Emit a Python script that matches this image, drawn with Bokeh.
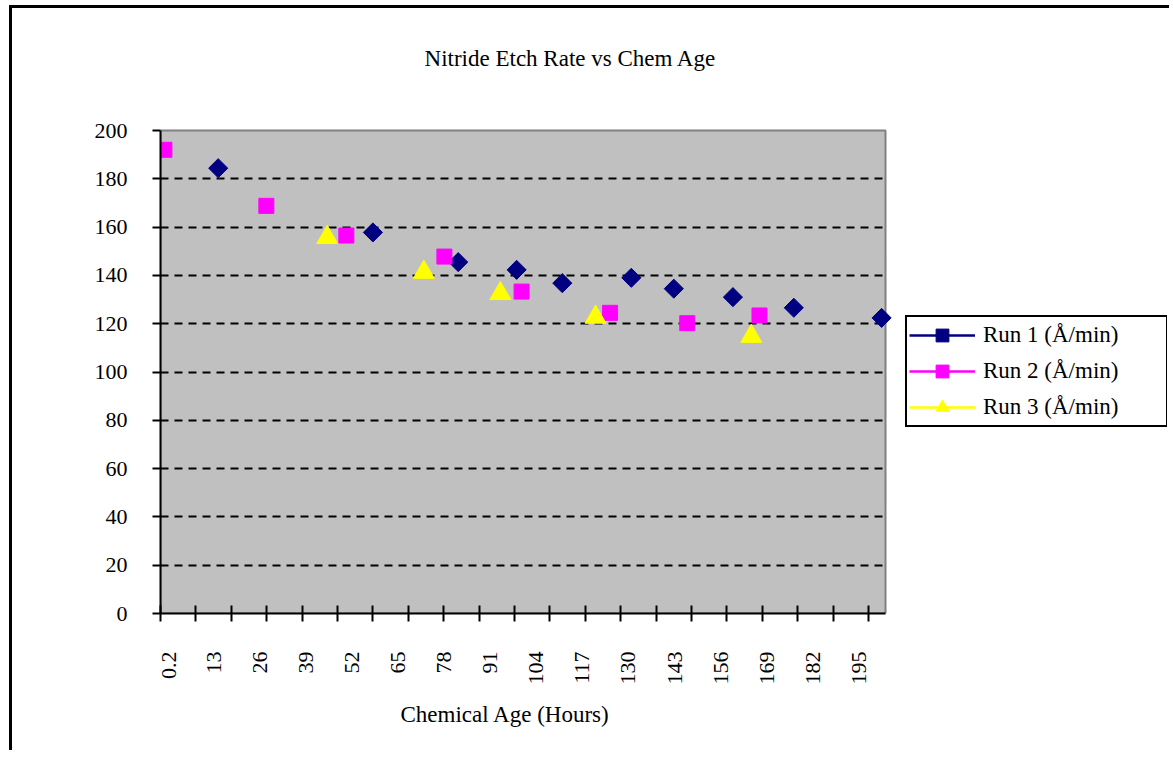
import math
from bokeh.plotting import figure
from bokeh.models import FixedTicker, Legend, LegendItem, Range1d, Label, Title
from bokeh.embed import file_html
from bokeh.resources import INLINE

# ---- data ----
run1_hours = [16.5, 60.2, 84.3, 100.8, 113.7, 133.2, 145.2, 161.9, 179.1, 203.9]
run1_rate = [184.4, 157.8, 145.5, 142.3, 136.8, 139.0, 134.5, 131.0, 126.6, 122.4]

run2_hours = [1.3, 30.1, 52.7, 80.4, 102.2, 127.2, 149.0, 169.4]
run2_rate = [192.0, 168.8, 156.5, 147.8, 133.3, 124.5, 120.2, 123.4]

run3_hours = [47.3, 74.6, 96.2, 123.1, 167.1]
run3_rate = [155.7, 141.3, 132.5, 122.7, 114.8]

x_tick_values = [0.2, 13, 26, 39, 52, 65, 78, 91, 104, 117, 130, 143, 156, 169, 182, 195]
x_tick_labels = ["0.2", "13", "26", "39", "52", "65", "78", "91", "104",
                 "117", "130", "143", "156", "169", "182", "195"]
x_tick_marks = [0.2 + 10 * k for k in range(21)]
y_ticks = [0, 20, 40, 60, 80, 100, 120, 140, 160, 180, 200]
y_grid = [20, 40, 60, 80, 100, 120, 140, 160, 180]

series_names = ["Run 1 (\u00c5/min)", "Run 2 (\u00c5/min)", "Run 3 (\u00c5/min)"]
colors = ["#000080", "#FF00FF", "#FFFF00"]
title_text = "Nitride Etch Rate vs Chem Age"
x_title = "Chemical Age (Hours)"

# axis extents of the gray plot area
X_MIN, X_MAX = 0.2, 205.0
Y_MIN, Y_MAX = 0, 200

FONT = "Liberation Serif"
LABEL_SHIFT = 2.4  # Excel draws rotated labels slightly right of their tick

# pixel layout: gray plot area is 725 x 483 px; the frame is extended up and right
AREA_W, AREA_H = 725, 483
FRAME_W, FRAME_H = 1007, 593
x_end = X_MIN + (X_MAX - X_MIN) * FRAME_W / AREA_W
y_end = Y_MIN + (Y_MAX - Y_MIN) * FRAME_H / AREA_H

p = figure(width=148 + FRAME_W + 5, height=12 + FRAME_H + 140,
           output_backend="svg", toolbar_location=None,
           x_range=Range1d(X_MIN, x_end), y_range=Range1d(Y_MIN, y_end),
           min_border_left=148, min_border_right=5,
           min_border_top=12, min_border_bottom=140)
p.styles = {"border-top": "3px solid black", "border-left": "3px solid black",
            "margin-left": "9px", "margin-top": "5px"}

p.background_fill_color = "white"
p.border_fill_color = "white"
p.outline_line_color = None

# gray plot area
p.quad(left=[X_MIN], right=[X_MAX], bottom=[Y_MIN], top=[Y_MAX],
       fill_color="#C0C0C0", line_color="#808080", line_width=2, level="image")

# title (placed as a text label above the plot area)
px_per_x = AREA_W / (X_MAX - X_MIN)
px_per_y = AREA_H / (Y_MAX - Y_MIN)
title = Label(x=X_MIN + (570 - 160) / px_per_x, y=Y_MIN + (613 - 58) / px_per_y,
              text=title_text, text_align="center", text_baseline="middle",
              text_font=FONT, text_font_size="23px", text_color="black")
p.add_layout(title)

# x axis
label_pos = [v + LABEL_SHIFT for v in x_tick_values]
xa = p.xaxis[0]
xa.bounds = (X_MIN, X_MAX)
xa.ticker = FixedTicker(ticks=label_pos, minor_ticks=x_tick_marks)
xa.major_label_overrides = {pos: lab for pos, lab in zip(label_pos, x_tick_labels)}
xa.major_label_orientation = math.pi / 2
xa.major_tick_line_color = None
xa.major_tick_in = 0
xa.major_tick_out = 0
xa.minor_tick_line_color = "black"
xa.minor_tick_line_width = 2
xa.minor_tick_in = 8
xa.minor_tick_out = 8
xa.axis_line_color = "black"
xa.axis_line_width = 2
xa.major_label_standoff = 30
xa.major_label_text_font = FONT
xa.major_label_text_font_size = "22px"
xa.major_label_text_color = "black"

# x axis title, centred under the gray area
x_title_model = Title(text=x_title, align="left", offset=240, standoff=24,
                      text_font=FONT, text_font_size="23px",
                      text_font_style="normal", text_color="black")
p.add_layout(x_title_model, "below")

# y axis
ya = p.yaxis[0]
ya.bounds = (Y_MIN, Y_MAX)
ya.ticker = FixedTicker(ticks=y_ticks)
ya.minor_tick_line_color = None
ya.major_tick_in = 0
ya.major_tick_out = 8
ya.major_tick_line_width = 2
ya.major_tick_line_color = "black"
ya.axis_line_color = "black"
ya.axis_line_width = 2
ya.major_label_standoff = 25
ya.major_label_text_font = FONT
ya.major_label_text_font_size = "22px"
ya.major_label_text_color = "black"

# grid
p.xgrid.grid_line_color = None
p.ygrid.ticker = FixedTicker(ticks=y_grid)
p.ygrid.cross_bounds = (X_MIN, X_MAX)
p.ygrid.grid_line_color = "black"
p.ygrid.grid_line_width = 2
p.ygrid.grid_line_dash = "8 6"

# series (one-point lines draw nothing in the plot; they only give the legend its line)
l1 = p.line(x=run1_hours[:1], y=run1_rate[:1], line_color=colors[0], line_width=2.5)
s1 = p.scatter(run1_hours, run1_rate, marker="square", angle=math.pi / 4, size=13.5,
               fill_color=colors[0], line_color=colors[0])
l2 = p.line(x=run2_hours[:1], y=run2_rate[:1], line_color=colors[1], line_width=2.5)
s2 = p.scatter(run2_hours, run2_rate, marker="square", size=15,
               fill_color=colors[1], line_color=colors[1])
l3 = p.line(x=run3_hours[:1], y=run3_rate[:1], line_color=colors[2], line_width=2.5)
s3 = p.scatter(run3_hours, run3_rate, marker="triangle", size=21,
               fill_color=colors[2], line_color=colors[2])

legend = Legend(items=[
    LegendItem(label=series_names[0], renderers=[l1, s1]),
    LegendItem(label=series_names[1], renderers=[l2, s2]),
    LegendItem(label=series_names[2], renderers=[l3, s3]),
], location=(745, 186))
legend.border_line_color = "black"
legend.border_line_width = 2
legend.border_line_alpha = 1.0
legend.background_fill_color = "white"
legend.background_fill_alpha = 1.0
legend.padding = 2
legend.spacing = 4
legend.margin = 0
legend.glyph_width = 66
legend.glyph_height = 32
legend.label_height = 32
legend.label_width = 181
legend.label_standoff = 8
legend.label_text_font = FONT
legend.label_text_font_size = "23px"
legend.label_text_color = "black"
p.add_layout(legend, "center")

open("out.html", "w").write(file_html(p, INLINE))
